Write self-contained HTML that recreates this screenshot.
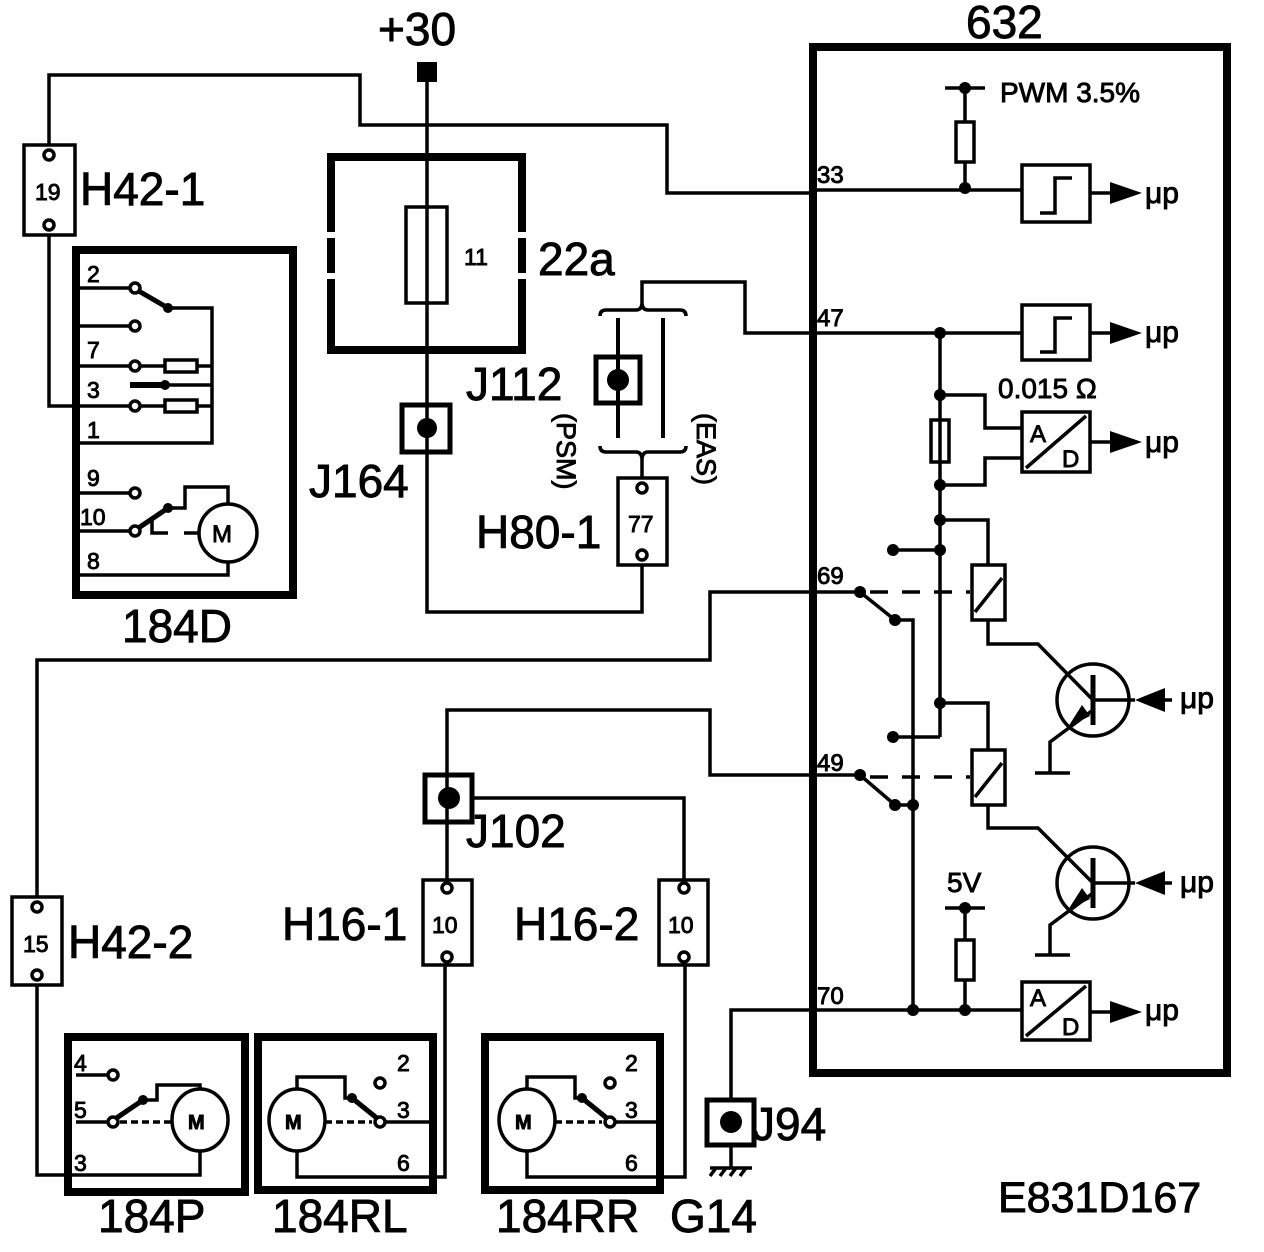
<!DOCTYPE html>
<html><head><meta charset="utf-8"><style>
html,body{margin:0;padding:0;background:#fff}
svg{display:block}
text{font-family:"Liberation Sans",Arial,sans-serif;fill:#000;stroke:#000;stroke-width:0.9}
</style></head><body>
<svg width="1264" height="1252" viewBox="0 0 1264 1252" xmlns="http://www.w3.org/2000/svg">
<g fill="none" stroke="#000" stroke-width="3.5">
<rect x="813" y="47" width="414" height="1026" stroke-width="8"/>
<polyline points="427,72 427,612 642,612 642,565"/>
<path d="M331,232 V157 H522 V232 M522,238 V273 M522,279 V350 H331 V279 M331,273 V238" stroke-width="8"/>
<rect x="406" y="207" width="41" height="96"/>
<rect x="402" y="405" width="48" height="47" stroke-width="5"/>
<rect x="24" y="145" width="51" height="90"/>
<polyline points="49,145 49,75 360,75 360,125 667,125 667,193 813,193"/>
<polyline points="49,235 49,406 133,406"/>
<rect x="76" y="250" width="217" height="345" stroke-width="8"/>
<line x1="80" y1="288" x2="132" y2="288"/>
<line x1="137" y1="290" x2="168" y2="308" stroke-width="5"/>
<polyline points="168,308 212,308 212,443 80,443"/>
<line x1="80" y1="326" x2="132" y2="326"/>
<line x1="80" y1="366" x2="132" y2="366"/>
<rect x="165" y="360" width="32" height="12"/>
<line x1="138" y1="366" x2="165" y2="366"/>
<line x1="197" y1="366" x2="212" y2="366"/>
<line x1="130" y1="385" x2="165" y2="385" stroke-width="6"/>
<line x1="165" y1="385" x2="212" y2="385"/>
<line x1="138" y1="406" x2="165" y2="406"/>
<rect x="165" y="400" width="32" height="12"/>
<line x1="197" y1="406" x2="212" y2="406"/>
<line x1="80" y1="493" x2="132" y2="493"/>
<line x1="80" y1="531" x2="132" y2="531"/>
<line x1="137" y1="529" x2="168" y2="508" stroke-width="5"/>
<polyline points="168,508 185,508 185,487 228,487 228,504"/>
<polyline points="152,518 152,533 168,533"/>
<line x1="184" y1="533" x2="199" y2="533"/>
<circle cx="228" cy="533" r="29"/>
<polyline points="80,575 228,575 228,562"/>
<line x1="618" y1="318" x2="618" y2="438" stroke-width="4"/>
<line x1="663" y1="318" x2="663" y2="438" stroke-width="4"/>
<rect x="596" y="357" width="44" height="46" stroke-width="5"/>
<path d="M600,316 Q600,310 606,310 H636 Q642,310 642,302 Q642,310 648,310 H680 Q686,310 686,316"/>
<polyline points="642,302 642,282 745,282 745,333 813,333"/>
<path d="M600,446 Q600,452 606,452 H636 Q642,452 642,460 Q642,452 648,452 H680 Q686,452 686,446"/>
<line x1="642" y1="460" x2="642" y2="478"/>
<rect x="618" y="478" width="49" height="87"/>
<rect x="12" y="897" width="50" height="88"/>
<polyline points="37,897 37,660 710,660 710,592 860,592"/>
<polyline points="37,985 37,1175 200,1175 200,1150"/>
<rect x="68" y="1037" width="177" height="155" stroke-width="8"/>
<line x1="76" y1="1075" x2="110" y2="1075"/>
<line x1="76" y1="1122" x2="110" y2="1122"/>
<line x1="115" y1="1119" x2="143" y2="1100" stroke-width="5"/>
<polyline points="143,1100 157,1100 157,1085 200,1085 200,1090"/>
<line x1="120" y1="1122" x2="172" y2="1122" stroke-dasharray="7,4"/>
<ellipse cx="200" cy="1120" rx="28" ry="31"/>
<rect x="258" y="1037" width="175" height="153" stroke-width="8"/>
<ellipse cx="297" cy="1120" rx="28" ry="31"/>
<polyline points="297,1089 297,1077 345,1077 345,1098 352,1098"/>
<line x1="352" y1="1098" x2="378" y2="1119" stroke-width="5"/>
<line x1="325" y1="1122" x2="372" y2="1122" stroke-dasharray="7,4"/>
<line x1="383" y1="1122" x2="430" y2="1122"/>
<polyline points="297,1151 297,1177 445,1177 445,965"/>
<rect x="485" y="1037" width="175" height="153" stroke-width="8"/>
<ellipse cx="527" cy="1120" rx="28" ry="31"/>
<polyline points="527,1089 527,1077 575,1077 575,1098 582,1098"/>
<line x1="582" y1="1098" x2="608" y2="1119" stroke-width="5"/>
<line x1="555" y1="1122" x2="602" y2="1122" stroke-dasharray="7,4"/>
<line x1="613" y1="1122" x2="657" y2="1122"/>
<polyline points="527,1151 527,1177 685,1177 685,965"/>
<rect x="423" y="880" width="49" height="85"/>
<rect x="659" y="880" width="49" height="85"/>
<rect x="425" y="775" width="47" height="47" stroke-width="5"/>
<polyline points="447,880 447,710 710,710 710,775 860,775"/>
<polyline points="472,798 684,798 684,880"/>
<rect x="707" y="1100" width="47" height="45" stroke-width="5"/>
<polyline points="731,1100 731,1010 1022,1010"/>
<line x1="731" y1="1145" x2="731" y2="1168"/>
<line x1="710" y1="1168" x2="752" y2="1168"/>
<path d="M716,1168 l-6,8 M726,1168 l-6,8 M736,1168 l-6,8 M746,1168 l-6,8"/>
<line x1="945" y1="88" x2="985" y2="88"/>
<line x1="965" y1="88" x2="965" y2="122"/>
<rect x="956" y="122" width="18" height="40"/>
<line x1="965" y1="162" x2="965" y2="190"/>
<line x1="813" y1="190" x2="1022" y2="190"/>
<rect x="1022" y="165" width="68" height="57"/>
<polyline points="1040,213 1055,213 1055,178 1072,178"/>
<line x1="1090" y1="193" x2="1112" y2="193"/>
<line x1="813" y1="333" x2="1022" y2="333"/>
<rect x="1022" y="305" width="68" height="55"/>
<polyline points="1040,352 1055,352 1055,318 1072,318"/>
<line x1="1090" y1="333" x2="1112" y2="333"/>
<line x1="940" y1="333" x2="940" y2="737"/>
<rect x="931" y="420" width="18" height="42"/>
<polyline points="940,395 985,395 985,428 1022,428"/>
<polyline points="940,485 985,485 985,458 1022,458"/>
<rect x="1022" y="412" width="68" height="60"/>
<line x1="1026" y1="468" x2="1086" y2="416"/>
<line x1="1090" y1="442" x2="1112" y2="442"/>
<polyline points="940,520 988,520 988,565"/>
<rect x="972" y="565" width="33" height="55"/>
<line x1="975" y1="612" x2="1002" y2="578"/>
<line x1="870" y1="592" x2="970" y2="592" stroke-dasharray="18,14"/>
<line x1="860" y1="592" x2="895" y2="620"/>
<polyline points="895,620 913,620 913,1010"/>
<line x1="893" y1="550" x2="940" y2="550"/>
<polyline points="988,620 988,644 1038,644 1093,700"/>
<circle cx="1093" cy="700" r="36"/>
<line x1="1093" y1="675" x2="1093" y2="725" stroke-width="5"/>
<polyline points="1093,710 1050,742 1050,773"/>
<line x1="1035" y1="773" x2="1070" y2="773"/>
<line x1="1093" y1="700" x2="1135" y2="700"/>
<line x1="1160" y1="700" x2="1172" y2="700"/>
<polyline points="940,703 988,703 988,750"/>
<rect x="972" y="750" width="33" height="55"/>
<line x1="975" y1="797" x2="1002" y2="763"/>
<line x1="870" y1="777" x2="970" y2="777" stroke-dasharray="18,14"/>
<line x1="860" y1="775" x2="895" y2="805"/>
<line x1="895" y1="805" x2="913" y2="805"/>
<line x1="893" y1="737" x2="940" y2="737"/>
<polyline points="988,805 988,828 1038,828 1093,883"/>
<circle cx="1093" cy="883" r="36"/>
<line x1="1093" y1="858" x2="1093" y2="908" stroke-width="5"/>
<polyline points="1093,893 1050,925 1050,955"/>
<line x1="1035" y1="955" x2="1070" y2="955"/>
<line x1="1093" y1="883" x2="1135" y2="883"/>
<line x1="1160" y1="883" x2="1172" y2="883"/>
<line x1="945" y1="908" x2="985" y2="908"/>
<line x1="965" y1="908" x2="965" y2="940"/>
<rect x="956" y="940" width="18" height="40"/>
<line x1="965" y1="980" x2="965" y2="1010"/>
<rect x="1022" y="982" width="68" height="58"/>
<line x1="1026" y1="1036" x2="1086" y2="986"/>
<line x1="1090" y1="1012" x2="1112" y2="1012"/>
</g>
<g fill="#fff" stroke="#000" stroke-width="3.5">
<circle cx="49" cy="155" r="5"/><circle cx="49" cy="225" r="5"/>
<circle cx="37" cy="907" r="5"/><circle cx="37" cy="975" r="5"/>
<circle cx="642" cy="488" r="5"/><circle cx="642" cy="555" r="5"/>
<circle cx="447" cy="888" r="5"/><circle cx="447" cy="957" r="5"/>
<circle cx="684" cy="888" r="5"/><circle cx="684" cy="957" r="5"/>
<circle cx="135" cy="288" r="5"/><circle cx="135" cy="326" r="5"/>
<circle cx="135" cy="366" r="5"/><circle cx="135" cy="406" r="5"/>
<circle cx="135" cy="493" r="5"/><circle cx="135" cy="531" r="5"/>
<circle cx="113" cy="1075" r="5"/><circle cx="113" cy="1122" r="5"/>
<circle cx="380" cy="1083" r="5"/><circle cx="380" cy="1122" r="5"/>
<circle cx="610" cy="1083" r="5"/><circle cx="610" cy="1122" r="5"/>
</g>
<g fill="#000">
<rect x="417" y="62" width="20" height="20"/>
<circle cx="427" cy="428" r="10"/>
<circle cx="618" cy="380" r="11"/>
<circle cx="449" cy="798" r="11"/>
<circle cx="731" cy="1122" r="11"/>
<circle cx="168" cy="308" r="5"/><circle cx="168" cy="508" r="5"/><circle cx="165" cy="385" r="5"/>
<circle cx="143" cy="1100" r="5"/><circle cx="352" cy="1098" r="5"/><circle cx="582" cy="1098" r="5"/>
<circle cx="965" cy="88" r="6"/><circle cx="965" cy="188" r="6"/>
<circle cx="940" cy="333" r="6"/><circle cx="940" cy="395" r="6"/><circle cx="940" cy="485" r="6"/>
<circle cx="940" cy="520" r="6"/><circle cx="940" cy="550" r="6"/><circle cx="893" cy="550" r="6"/>
<circle cx="860" cy="592" r="6"/><circle cx="895" cy="620" r="6"/>
<circle cx="940" cy="703" r="6"/><circle cx="893" cy="737" r="6"/>
<circle cx="860" cy="775" r="6"/><circle cx="895" cy="805" r="6"/><circle cx="913" cy="805" r="6"/>
<circle cx="913" cy="1010" r="6"/><circle cx="965" cy="1010" r="6"/><circle cx="965" cy="908" r="6"/>
<polygon points="1110,182 1142,193 1110,204"/>
<polygon points="1110,322 1142,333 1110,344"/>
<polygon points="1110,431 1142,442 1110,453"/>
<polygon points="1110,1001 1142,1012 1110,1023"/>
<polygon points="1165,688 1135,700 1165,712"/>
<polygon points="1165,871 1135,883 1165,895"/>
<polygon points="1068,727 1082,705 1090,716"/>
<polygon points="1068,910 1082,888 1090,899"/>
</g>
<g font-size="46">
<text x="378" y="45">+30</text>
<text x="966" y="38">632</text>
<text x="80" y="205">H42-1</text>
<text x="538" y="275">22a</text>
<text x="466" y="400">J112</text>
<text x="309" y="497">J164</text>
<text x="476" y="548">H80-1</text>
<text x="122" y="642">184D</text>
<text x="466" y="847">J102</text>
<text x="68" y="958">H42-2</text>
<text x="282" y="940">H16-1</text>
<text x="514" y="940">H16-2</text>
<text x="752" y="1140">J94</text>
<text x="98" y="1232">184P</text>
<text x="272" y="1232">184RL</text>
<text x="496" y="1232">184RR</text>
<text x="670" y="1232">G14</text>
<text x="998" y="1212" font-size="43">E831D167</text>
</g>
<g font-size="23">
<text x="35" y="200">19</text>
<text x="464" y="265">11</text>
<text x="628" y="532">77</text>
<text x="23" y="952">15</text>
<text x="432" y="933">10</text>
<text x="668" y="933">10</text>
<text x="87" y="282">2</text><text x="87" y="358">7</text><text x="87" y="398">3</text><text x="87" y="438">1</text>
<text x="87" y="486">9</text><text x="80" y="525">10</text><text x="87" y="569">8</text>
<text x="74" y="1071">4</text><text x="74" y="1118">5</text><text x="74" y="1171">3</text>
<text x="397" y="1071">2</text><text x="397" y="1118">3</text><text x="397" y="1171">6</text>
<text x="625" y="1071">2</text><text x="625" y="1118">3</text><text x="625" y="1171">6</text>
</g>
<g font-size="24">
<text x="817" y="183">33</text><text x="817" y="326">47</text><text x="817" y="584">69</text>
<text x="817" y="771">49</text><text x="817" y="1004">70</text>
<text x="1030" y="442">A</text><text x="1062" y="467">D</text>
<text x="1030" y="1006">A</text><text x="1062" y="1035">D</text>
<text x="212" y="542" stroke-width="0">M</text>
<text x="188" y="1129" font-size="20" font-weight="bold" stroke-width="0">M</text>
<text x="285" y="1129" font-size="20" font-weight="bold" stroke-width="0">M</text>
<text x="515" y="1129" font-size="20" font-weight="bold" stroke-width="0">M</text>
</g>
<g font-size="28">
<text x="1000" y="102">PWM 3.5%</text>
<text x="998" y="398">0.015 Ω</text>
<text x="947" y="892">5V</text>
</g>
<g font-size="30">
<text x="1145" y="203">μp</text><text x="1145" y="342">μp</text><text x="1145" y="452">μp</text>
<text x="1180" y="708">μp</text><text x="1180" y="892">μp</text><text x="1145" y="1020">μp</text>
</g>
<text font-size="27" transform="translate(557,413) rotate(90)">(PSM)</text>
<text font-size="27" transform="translate(697,413) rotate(90)">(EAS)</text>
</svg>
</body></html>
